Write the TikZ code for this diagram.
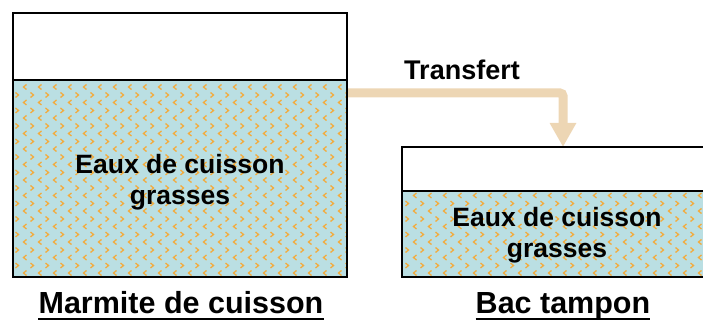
\documentclass[tikz,border=0pt]{standalone}
\usepackage{fontspec}
\setmainfont{Liberation Sans}
\usetikzlibrary{arrows.meta,calc}
\definecolor{water}{HTML}{BADFE3}
\definecolor{chev}{HTML}{F2AC40}
\definecolor{pipe}{HTML}{EDD6B4}
\tikzset{
  vessel/.style={inner sep=0pt,outer sep=0pt},
  wall/.style={draw=black,line width=2pt},
  surface/.style={draw=black,line width=1.4pt},
  chevstroke/.style={draw=chev,line width=1.3pt,line join=miter},
  liquidtext/.style={font=\fontsize{26.5}{31}\selectfont\bfseries,align=center,inner sep=0pt},
  caption/.style={font=\fontsize{30.5}{36}\selectfont\bfseries,inner sep=0pt,anchor=base},
  pipeflow/.style={draw=pipe,line width=9pt,rounded corners=3pt,
    -{Triangle[width=25pt,length=24pt]}}
}
% chevron texture over a liquid region: #1,#2 = corners
\newcommand\liquidfill[2]{%
  \fill[water] (#1) rectangle (#2);
  \begin{scope}
    \clip (#1) rectangle (#2);
    \foreach \k in {0,...,12}{%
      \foreach \i in {-1,...,47}{%
        \draw[chevstroke] ({25+15*\i+1.5},{87+15.5*\k-2.5}) -- ++(-3,2.5) -- ++(3,2.5);
        \draw[chevstroke] ({17+15*\i-1.5},{95+15.5*\k-2.5}) -- ++(3,2.5) -- ++(-3,2.5);
      }%
    }%
  \end{scope}%
}
\begin{document}
\begin{tikzpicture}[x=1pt,y=-1pt]
\useasboundingbox (0,0) rectangle (703,320);

% vessels
\node[vessel,minimum width=334pt,minimum height=264pt] (marmite) at (180,145) {};
\node[vessel,minimum width=322pt,minimum height=130pt] (bac) at (563,212) {};
\coordinate (mliq) at ($(marmite.north west)+(0,67)$);
\coordinate (bliq) at ($(bac.north west)+(0,44)$);

% transfer pipe
\draw[pipeflow] ($(marmite.north east)+(0,80)$) -| (bac.north);

% liquids
\liquidfill{mliq}{marmite.south east}
\liquidfill{bliq}{bac.south east}

% walls and liquid surfaces
\draw[wall] (marmite.south west) rectangle (marmite.north east);
\draw[wall] (bac.south west) rectangle (bac.north east);
\draw[surface] (mliq) -- (mliq -| marmite.east);
\draw[surface] (bliq) -- (bliq -| bac.east);

% texts
\node[liquidtext] (mtext) at (180,182) {Eaux de cuisson\\grasses};
\node[liquidtext] (btext) at (557,235) {Eaux de cuisson\\grasses};
\node[font=\fontsize{27}{32}\selectfont\bfseries,inner sep=0pt,anchor=base] (transfert) at (462,80) {Transfert};

\node[caption] (mcap) at (181,313) {Marmite de cuisson};
\node[caption] (bcap) at (563,313) {Bac tampon};
\draw[line width=2.2pt] ([yshift=-6pt]mcap.base west) -- ([yshift=-6pt]mcap.base east);
\draw[line width=2.2pt] ([yshift=-6pt]bcap.base west) -- ([yshift=-6pt]bcap.base east);
\end{tikzpicture}
\end{document}
